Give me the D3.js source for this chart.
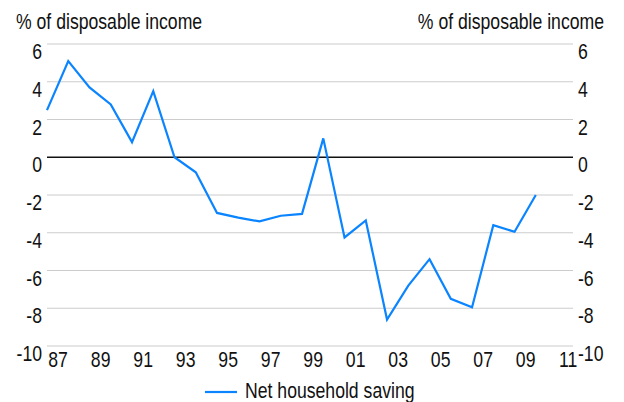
<!DOCTYPE html>
<html>
<head>
<meta charset="utf-8">
<script src="https://cdn.jsdelivr.net/npm/d3@7/dist/d3.min.js"></script>
<style>
  html, body { margin: 0; padding: 0; background: #fff; }
  svg { display: block; }
  text { font-family: "Liberation Sans", Arial, sans-serif; fill: #111; }
</style>
</head>
<body>
<svg id="chart" width="624" height="402"></svg>
<script>
// Net household saving, % of disposable income (annual)
const years = [1987, 1988, 1989, 1990, 1991, 1992, 1993, 1994, 1995, 1996, 1997, 1998,
               1999, 2000, 2001, 2002, 2003, 2004, 2005, 2006, 2007, 2008, 2009, 2010];
const saving = [2.5, 5.1, 3.7, 2.8, 0.8, 3.5, 0.0, -0.8, -2.95, -3.2, -3.4, -3.1,
                -3.0, 1.0, -4.25, -3.35, -8.6, -6.8, -5.4, -7.5, -7.95, -3.6, -3.95, -2.0];
const yTicks = [6, 4, 2, 0, -2, -4, -6, -8, -10];
const xTickYears = [1987, 1989, 1991, 1993, 1995, 1997, 1999, 2001, 2003, 2005, 2007, 2009, 2011];
const axisTitle = "% of disposable income";
const seriesName = "Net household saving";

(function draw() {
  const svg = d3.select("#chart");
  const plotL = 47, plotR = 573, plotT = 44, plotB = 346;
  const fontSize = 21.5;
  const squeeze = 0.82;           // horizontal condensing for a narrow sans look
  const narrow = `scale(${squeeze},1)`;

  const x = d3.scaleLinear().domain([1987, 2011.75]).range([plotL, plotR]);
  const y = d3.scaleLinear().domain([-10, 6]).range([plotB, plotT]);

  // horizontal gridlines
  svg.append("g")
    .selectAll("line")
    .data(yTicks)
    .join("line")
    .attr("x1", plotL).attr("x2", plotR)
    .attr("y1", d => y(d)).attr("y2", d => y(d))
    .attr("stroke", d => d === 0 ? "#111" : "#cccccc")
    .attr("stroke-width", d => d === 0 ? 1.3 : 1.2);

  // left value axis
  const yLeft = svg.append("g")
    .attr("transform", `translate(${plotL},0)`)
    .call(d3.axisLeft(y).tickValues(yTicks).tickSize(0).tickFormat(d => String(d)));
  yLeft.select(".domain").remove();
  yLeft.selectAll("text")
    .attr("font-size", fontSize).attr("font-family", null)
    .attr("x", -5 / squeeze)
    .attr("dy", "0.68em")
    .attr("transform", narrow);

  // right value axis
  const yRight = svg.append("g")
    .attr("transform", `translate(${plotR},0)`)
    .call(d3.axisRight(y).tickValues(yTicks).tickSize(0).tickFormat(d => String(d)));
  yRight.select(".domain").remove();
  yRight.selectAll("text")
    .attr("font-size", fontSize).attr("font-family", null)
    .attr("x", 5 / squeeze)
    .attr("dy", "0.68em")
    .attr("transform", narrow);

  // year labels, centred within each year
  const xAxis = svg.append("g")
    .attr("transform", `translate(0,${plotB})`)
    .call(d3.axisBottom(x)
      .tickValues(xTickYears.map(v => v + 0.5))
      .tickSize(0).tickPadding(6)
      .tickFormat(v => String(Math.floor(v) % 100).padStart(2, "0")));
  xAxis.select(".domain").remove();
  xAxis.selectAll("text")
    .attr("font-size", fontSize).attr("font-family", null)
    .attr("transform", narrow);

  // axis titles
  svg.append("g").attr("transform", "translate(16,29)")
    .append("text")
    .attr("font-size", fontSize)
    .attr("transform", narrow)
    .text(axisTitle);
  svg.append("g").attr("transform", "translate(604,29)")
    .append("text")
    .attr("text-anchor", "end")
    .attr("font-size", fontSize)
    .attr("transform", narrow)
    .text(axisTitle);

  // series line
  const line = d3.line()
    .x((d, i) => x(years[i]))
    .y(d => y(d));
  svg.append("path")
    .datum(saving)
    .attr("fill", "none")
    .attr("stroke", "#0a84ff")
    .attr("stroke-width", 2.2)
    .attr("stroke-linejoin", "miter")
    .attr("d", line);

  // legend
  const legend = svg.append("g").attr("transform", "translate(205,392)");
  legend.append("line")
    .attr("x1", 0).attr("x2", 32)
    .attr("y1", 0).attr("y2", 0)
    .attr("stroke", "#0a84ff").attr("stroke-width", 2.2);
  legend.append("g").attr("transform", "translate(40,6)")
    .append("text")
    .attr("font-size", fontSize)
    .attr("transform", narrow)
    .text(seriesName);
})();
</script>
</body>
</html>
